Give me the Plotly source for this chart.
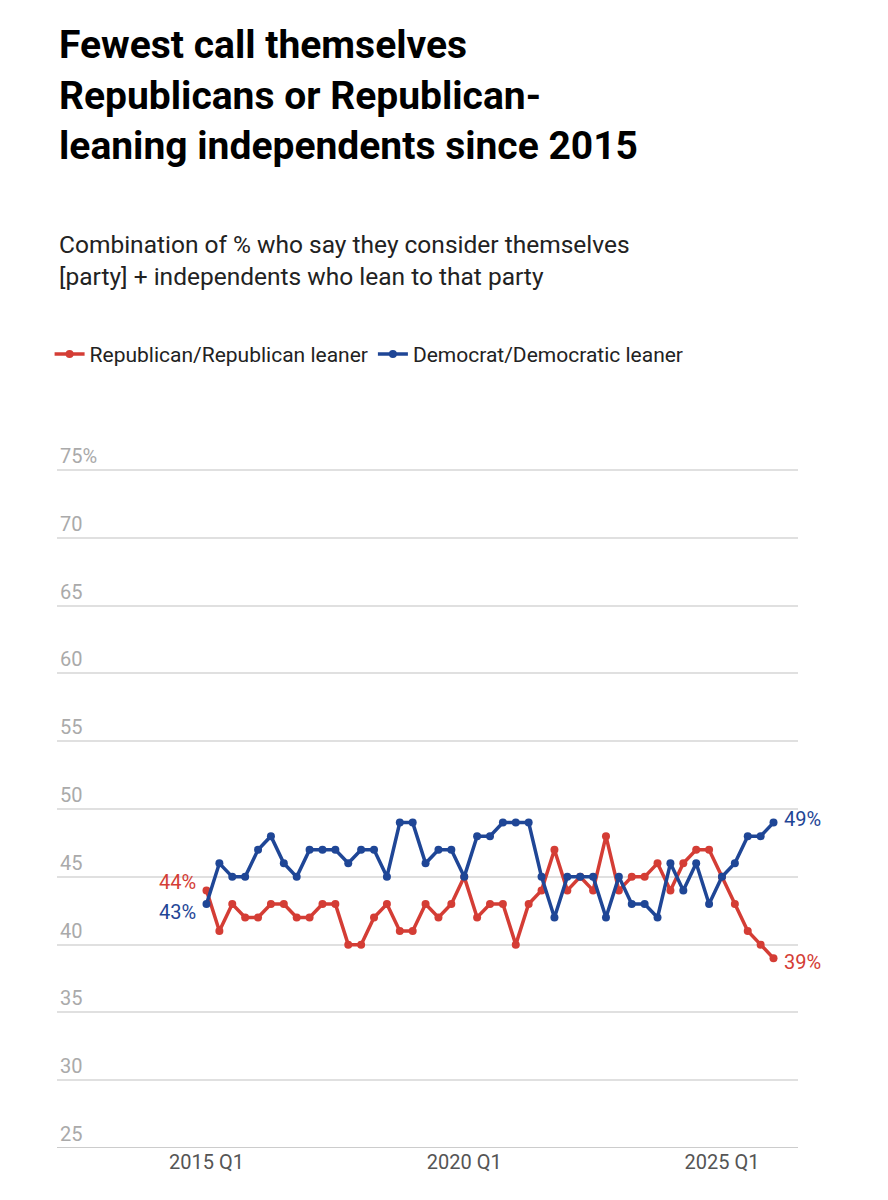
import plotly.graph_objects as go

rep = [44,41,43,42,42,43,43,42,42,43,43,40,40,42,43,41,41,43,42,43,45,42,
       43,43,40,43,44,47,44,45,44,48,44,45,45,46,44,46,47,47,45,43,41,40,39]
dem = [43,46,45,45,47,48,46,45,47,47,47,46,47,47,45,49,49,46,47,47,45,48,
       48,49,49,49,45,42,45,45,45,42,45,43,43,42,46,44,46,43,45,46,48,48,49]
x = list(range(len(rep)))
tick_vals = [0, 20, 40]
tick_text = ["2015 Q1", "2020 Q1", "2025 Q1"]
y_ticks = [25, 30, 35, 40, 45, 50, 55, 60, 65, 70, 75]
y_text = [str(v) if v != 75 else "75%" for v in y_ticks]

RED = "#d43d35"
BLUE = "#1f4696"
FONT = "Roboto"

fig = go.Figure()
fig.add_trace(go.Scatter(x=x, y=rep, name="Republican/Republican leaner",
    mode="lines+markers", line=dict(color=RED, width=3.5), marker=dict(size=8, color=RED)))
fig.add_trace(go.Scatter(x=x, y=dem, name="Democrat/Democratic leaner",
    mode="lines+markers", line=dict(color=BLUE, width=3.5), marker=dict(size=8, color=BLUE)))

ann = []
for series, col, yshift0 in ((rep, RED, 8), (dem, BLUE, -8)):
    ann.append(dict(x=x[0], y=series[0], text=f"{series[0]}%", xanchor="right", xshift=-8,
                    yshift=yshift0, showarrow=False, font=dict(size=20, color=col, family=FONT)))
    ann.append(dict(x=x[-1], y=series[-1], text=f"{series[-1]}%", xanchor="left", xshift=8,
                    yshift=(4 if series is dem else -4), showarrow=False,
                    font=dict(size=20, color=col, family=FONT)))

ann.append(dict(xref="paper", yref="paper", x=0, y=1.60, xanchor="left", yanchor="top",
    text="Fewest call themselves<br>Republicans or Republican-<br>leaning independents since 2015",
    showarrow=False, align="left", font=dict(size=39, color="#000", family=FONT, weight="bold")))
ann.append(dict(xref="paper", yref="paper", x=0, y=1.305, xanchor="left", yanchor="top",
    text="Combination of % who say they consider themselves<br>[party] + independents who lean to that party",
    showarrow=False, align="left", font=dict(size=24.5, color="#222", family=FONT)))

fig.update_layout(
    width=888, height=1200, paper_bgcolor="white", plot_bgcolor="white",
    margin=dict(l=49, r=98, t=435, b=60),
    font=dict(family=FONT),
    showlegend=True,
    legend=dict(orientation="h", x=-0.01, y=1.155, xanchor="left", yanchor="top",
                font=dict(size=21, color="#222", family=FONT), itemwidth=30),
    annotations=ann,
    xaxis=dict(range=[-11.6, 45.9], tickvals=tick_vals, ticktext=tick_text, showgrid=False,
               zeroline=False, tickfont=dict(size=20, color="#555"), ticks="", ticklen=8),
    yaxis=dict(range=[25, 77], tickvals=y_ticks, ticktext=y_text, ticklabelposition="inside top",
               showgrid=True, gridcolor="#e0e0e0", gridwidth=2, zeroline=False,
               tickfont=dict(size=20, color="#aaa"), ticks=""),
)
fig.add_hline(y=25, line=dict(color="#cccccc", width=2))
fig.write_html("out.html")
